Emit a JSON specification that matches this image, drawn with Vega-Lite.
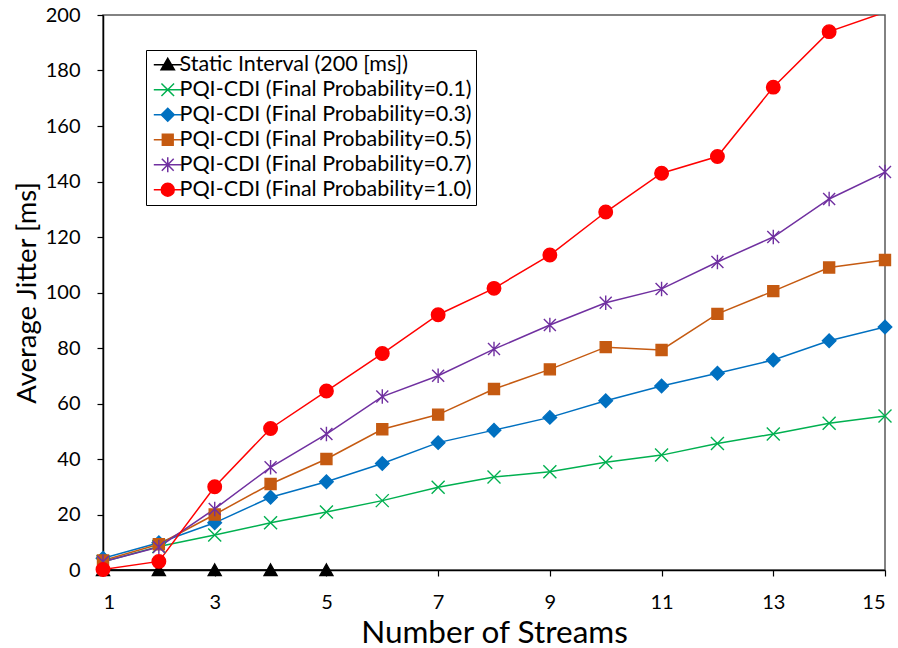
{
  "$schema": "https://vega.github.io/schema/vega-lite/v6.json",
  "width": 782,
  "height": 555,
  "autosize": "none",
  "padding": {"left": 103, "top": 15, "right": 13, "bottom": 78},
  "background": "white",
  "config": {
    "font": "Lato",
    "view": {"stroke": "#595959", "strokeWidth": 1.5},
    "axis": {
      "grid": false,
      "domainColor": "black",
      "domainWidth": 1.5,
      "tickColor": "black",
      "tickWidth": 1.2,
      "tickSize": 6,
      "labelColor": "black",
      "labelFont": "Lato",
      "labelFontSize": 20,
      "titleColor": "black",
      "titleFont": "Lato",
      "titleFontWeight": "normal"
    }
  },
  "data": {
    "values": [
      {"s": "Static Interval (200 [ms])", "x": 1, "y": 0},
      {"s": "Static Interval (200 [ms])", "x": 2, "y": 0},
      {"s": "Static Interval (200 [ms])", "x": 3, "y": 0},
      {"s": "Static Interval (200 [ms])", "x": 4, "y": 0},
      {"s": "Static Interval (200 [ms])", "x": 5, "y": 0},

      {"s": "PQI-CDI (Final Probability=0.1)", "x": 1, "y": 3},
      {"s": "PQI-CDI (Final Probability=0.1)", "x": 2, "y": 8.5},
      {"s": "PQI-CDI (Final Probability=0.1)", "x": 3, "y": 12.6},
      {"s": "PQI-CDI (Final Probability=0.1)", "x": 4, "y": 17},
      {"s": "PQI-CDI (Final Probability=0.1)", "x": 5, "y": 20.9},
      {"s": "PQI-CDI (Final Probability=0.1)", "x": 6, "y": 25},
      {"s": "PQI-CDI (Final Probability=0.1)", "x": 7, "y": 29.8},
      {"s": "PQI-CDI (Final Probability=0.1)", "x": 8, "y": 33.5},
      {"s": "PQI-CDI (Final Probability=0.1)", "x": 9, "y": 35.4},
      {"s": "PQI-CDI (Final Probability=0.1)", "x": 10, "y": 38.8},
      {"s": "PQI-CDI (Final Probability=0.1)", "x": 11, "y": 41.4},
      {"s": "PQI-CDI (Final Probability=0.1)", "x": 12, "y": 45.6},
      {"s": "PQI-CDI (Final Probability=0.1)", "x": 13, "y": 49},
      {"s": "PQI-CDI (Final Probability=0.1)", "x": 14, "y": 52.9},
      {"s": "PQI-CDI (Final Probability=0.1)", "x": 15, "y": 55.5},

      {"s": "PQI-CDI (Final Probability=0.3)", "x": 1, "y": 4.2},
      {"s": "PQI-CDI (Final Probability=0.3)", "x": 2, "y": 9.8},
      {"s": "PQI-CDI (Final Probability=0.3)", "x": 3, "y": 17},
      {"s": "PQI-CDI (Final Probability=0.3)", "x": 4, "y": 26.2},
      {"s": "PQI-CDI (Final Probability=0.3)", "x": 5, "y": 31.8},
      {"s": "PQI-CDI (Final Probability=0.3)", "x": 6, "y": 38.4},
      {"s": "PQI-CDI (Final Probability=0.3)", "x": 7, "y": 45.9},
      {"s": "PQI-CDI (Final Probability=0.3)", "x": 8, "y": 50.4},
      {"s": "PQI-CDI (Final Probability=0.3)", "x": 9, "y": 55},
      {"s": "PQI-CDI (Final Probability=0.3)", "x": 10, "y": 61},
      {"s": "PQI-CDI (Final Probability=0.3)", "x": 11, "y": 66.3},
      {"s": "PQI-CDI (Final Probability=0.3)", "x": 12, "y": 70.9},
      {"s": "PQI-CDI (Final Probability=0.3)", "x": 13, "y": 75.7},
      {"s": "PQI-CDI (Final Probability=0.3)", "x": 14, "y": 82.6},
      {"s": "PQI-CDI (Final Probability=0.3)", "x": 15, "y": 87.6},

      {"s": "PQI-CDI (Final Probability=0.5)", "x": 1, "y": 3.4},
      {"s": "PQI-CDI (Final Probability=0.5)", "x": 2, "y": 9.3},
      {"s": "PQI-CDI (Final Probability=0.5)", "x": 3, "y": 20},
      {"s": "PQI-CDI (Final Probability=0.5)", "x": 4, "y": 31},
      {"s": "PQI-CDI (Final Probability=0.5)", "x": 5, "y": 40},
      {"s": "PQI-CDI (Final Probability=0.5)", "x": 6, "y": 50.7},
      {"s": "PQI-CDI (Final Probability=0.5)", "x": 7, "y": 56},
      {"s": "PQI-CDI (Final Probability=0.5)", "x": 8, "y": 65.2},
      {"s": "PQI-CDI (Final Probability=0.5)", "x": 9, "y": 72.3},
      {"s": "PQI-CDI (Final Probability=0.5)", "x": 10, "y": 80.3},
      {"s": "PQI-CDI (Final Probability=0.5)", "x": 11, "y": 79.3},
      {"s": "PQI-CDI (Final Probability=0.5)", "x": 12, "y": 92.3},
      {"s": "PQI-CDI (Final Probability=0.5)", "x": 13, "y": 100.5},
      {"s": "PQI-CDI (Final Probability=0.5)", "x": 14, "y": 109},
      {"s": "PQI-CDI (Final Probability=0.5)", "x": 15, "y": 111.7},

      {"s": "PQI-CDI (Final Probability=0.7)", "x": 1, "y": 3},
      {"s": "PQI-CDI (Final Probability=0.7)", "x": 2, "y": 8.3},
      {"s": "PQI-CDI (Final Probability=0.7)", "x": 3, "y": 22},
      {"s": "PQI-CDI (Final Probability=0.7)", "x": 4, "y": 37},
      {"s": "PQI-CDI (Final Probability=0.7)", "x": 5, "y": 49},
      {"s": "PQI-CDI (Final Probability=0.7)", "x": 6, "y": 62.5},
      {"s": "PQI-CDI (Final Probability=0.7)", "x": 7, "y": 70},
      {"s": "PQI-CDI (Final Probability=0.7)", "x": 8, "y": 79.6},
      {"s": "PQI-CDI (Final Probability=0.7)", "x": 9, "y": 88.3},
      {"s": "PQI-CDI (Final Probability=0.7)", "x": 10, "y": 96.3},
      {"s": "PQI-CDI (Final Probability=0.7)", "x": 11, "y": 101.3},
      {"s": "PQI-CDI (Final Probability=0.7)", "x": 12, "y": 111},
      {"s": "PQI-CDI (Final Probability=0.7)", "x": 13, "y": 120},
      {"s": "PQI-CDI (Final Probability=0.7)", "x": 14, "y": 133.7},
      {"s": "PQI-CDI (Final Probability=0.7)", "x": 15, "y": 143.4},

      {"s": "PQI-CDI (Final Probability=1.0)", "x": 1, "y": 0.2},
      {"s": "PQI-CDI (Final Probability=1.0)", "x": 2, "y": 3.1},
      {"s": "PQI-CDI (Final Probability=1.0)", "x": 3, "y": 30},
      {"s": "PQI-CDI (Final Probability=1.0)", "x": 4, "y": 51},
      {"s": "PQI-CDI (Final Probability=1.0)", "x": 5, "y": 64.5},
      {"s": "PQI-CDI (Final Probability=1.0)", "x": 6, "y": 78},
      {"s": "PQI-CDI (Final Probability=1.0)", "x": 7, "y": 92},
      {"s": "PQI-CDI (Final Probability=1.0)", "x": 8, "y": 101.5},
      {"s": "PQI-CDI (Final Probability=1.0)", "x": 9, "y": 113.5},
      {"s": "PQI-CDI (Final Probability=1.0)", "x": 10, "y": 129},
      {"s": "PQI-CDI (Final Probability=1.0)", "x": 11, "y": 143},
      {"s": "PQI-CDI (Final Probability=1.0)", "x": 12, "y": 149},
      {"s": "PQI-CDI (Final Probability=1.0)", "x": 13, "y": 174},
      {"s": "PQI-CDI (Final Probability=1.0)", "x": 14, "y": 194},
      {"s": "PQI-CDI (Final Probability=1.0)", "x": 15, "y": 201}
    ]
  },
  "encoding": {
    "x": {
      "field": "x",
      "type": "quantitative",
      "scale": {"domain": [1, 15], "nice": false, "zero": false},
      "axis": {
        "values": [1, 3, 5, 7, 9, 11, 13, 15],
        "title": "Number of Streams",
        "titleFontSize": 31.5,
        "labelPadding": 16,
        "titlePadding": 5
      }
    },
    "y": {
      "field": "y",
      "type": "quantitative",
      "scale": {"domain": [0, 200], "nice": false},
      "axis": {
        "values": [0, 20, 40, 60, 80, 100, 120, 140, 160, 180, 200],
        "title": "Average Jitter [ms]",
        "titleFontSize": 27.5,
        "labelPadding": 17,
        "titlePadding": 4
      }
    },
    "stroke": {
      "field": "s",
      "type": "nominal",
      "scale": {
        "domain": [
          "Static Interval (200 [ms])",
          "PQI-CDI (Final Probability=0.1)",
          "PQI-CDI (Final Probability=0.3)",
          "PQI-CDI (Final Probability=0.5)",
          "PQI-CDI (Final Probability=0.7)",
          "PQI-CDI (Final Probability=1.0)"
        ],
        "range": ["#000000", "#00B050", "#0070C0", "#C55A11", "#7030A0", "#FF0000"]
      },
      "legend": {
        "orient": "none",
        "legendX": 43,
        "legendY": 35,
        "title": null,
        "strokeColor": "#000000",
        "fillColor": "white",
        "padding": 4,
        "labelFont": "Lato",
        "labelFontSize": 21.5,
        "labelColor": "black",
        "labelLimit": 400,
        "symbolSize": 324,
        "symbolOffset": 7,
        "labelOffset": 1,
        "rowPadding": 2,
        "encode": {
          "symbols": {
            "update": {
              "shape": {
                "signal": "['M-1.55,0H1.55M0,-0.72L0.74,0.56L-0.74,0.56Z', 'M-1.55,0H1.55M-0.7,-0.7L0.7,0.7M-0.7,0.7L0.7,-0.7', 'M-1.55,0H1.55M0,-0.72L0.72,0L0,0.72L-0.72,0Z', 'M-1.55,0H1.55M-0.6,-0.6H0.6V0.6H-0.6Z', 'M-1.55,0H1.55M-0.66,-0.66L0.66,0.66M-0.66,0.66L0.66,-0.66M0,-0.82V0.82', 'M-1.55,0H1.55M-0.72,0A0.72,0.72,0,1,0,0.72,0A0.72,0.72,0,1,0,-0.72,0Z'][indexof(['Static Interval (200 [ms])', 'PQI-CDI (Final Probability=0.1)', 'PQI-CDI (Final Probability=0.3)', 'PQI-CDI (Final Probability=0.5)', 'PQI-CDI (Final Probability=0.7)', 'PQI-CDI (Final Probability=1.0)'], datum.value)]"
              },
              "strokeWidth": {"value": 1.5},
              "opacity": {"value": 1}
            }
          }
        }
      }
    }
  },
  "layer": [
    {
      "mark": {"type": "line", "strokeWidth": 1.5, "clip": true}
    },
    {
      "transform": [{"filter": "datum.y <= 200"}],
      "mark": {"type": "point", "filled": true, "size": 100, "strokeWidth": 1.4, "opacity": 1},
      "encoding": {
        "fill": {
          "field": "s",
          "type": "nominal",
          "scale": {
            "domain": [
              "Static Interval (200 [ms])",
              "PQI-CDI (Final Probability=0.1)",
              "PQI-CDI (Final Probability=0.3)",
              "PQI-CDI (Final Probability=0.5)",
              "PQI-CDI (Final Probability=0.7)",
              "PQI-CDI (Final Probability=1.0)"
            ],
            "range": ["#000000", "#00B050", "#0070C0", "#C55A11", "#7030A0", "#FF0000"]
          },
          "legend": null
        },
        "shape": {
          "field": "s",
          "type": "nominal",
          "scale": {
            "domain": [
              "PQI-CDI (Final Probability=1.0)",
              "PQI-CDI (Final Probability=0.7)",
              "PQI-CDI (Final Probability=0.5)",
              "PQI-CDI (Final Probability=0.3)",
              "PQI-CDI (Final Probability=0.1)",
              "Static Interval (200 [ms])"
            ],
            "range": [
              "M-1.35,0A1.35,1.35,0,1,0,1.35,0A1.35,1.35,0,1,0,-1.35,0Z",
              "M-1.2,-1.2L1.2,1.2M-1.2,1.2L1.2,-1.2M0,-1.45V1.45",
              "M-1.1,-1.1H1.1V1.1H-1.1Z",
              "M0,-1.35L1.35,0L0,1.35L-1.35,0Z",
              "M-1.3,-1.3L1.3,1.3M-1.3,1.3L1.3,-1.3",
              "M0,-1.2L1.3,1.1L-1.3,1.1Z"
            ]
          },
          "legend": null
        }
      }
    }
  ]
}
